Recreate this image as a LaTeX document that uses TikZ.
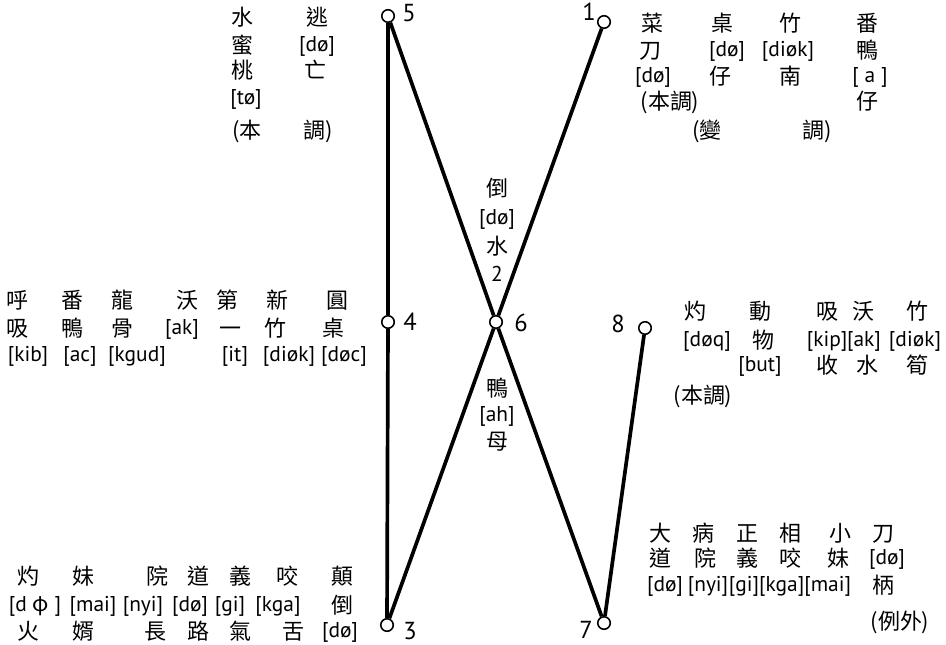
\documentclass[tikz,border=0pt]{standalone}
\usepackage{fontspec}
\setmainfont{PT Sans}
\newfontfamily\cjk{Noto Sans CJK TC}
\begin{document}
\begin{tikzpicture}[x=0.02cm, y=-0.02cm,
    pt/.style={circle, draw, line width=0.9pt, fill=white, inner sep=0pt, minimum size=0.25cm},
    link/.style={line width=2.1pt},
    num/.style={font=\fontsize{14}{16}\selectfont, inner sep=0pt},
    zi/.style={font=\cjk\fontsize{12.5}{14}\selectfont, inner sep=0pt, text height=0.85em, text depth=0.15em},
    yin/.style={font=\fontsize{12.2}{14}\selectfont, inner sep=0pt, text height=0.78em, text depth=0.22em}]

    \useasboundingbox (0,0) rectangle (946,645);

    % 1. 調點 (圓圈) 與編號
    \node[pt] (p5) at (388,16) {};
    \node[pt] (p1) at (604,22) {};
    \node[pt] (p4) at (388,322) {};
    \node[pt] (p6) at (496,322) {};
    \node[pt] (p8) at (645,328) {};
    \node[pt] (p3) at (387,625) {};
    \node[pt] (p7) at (604,623) {};
    \node[num] (n5) at (409,13) {5};
    \node[num] (n1) at (589,12) {1};
    \node[num] (n4) at (410,322) {4};
    \node[num] (n6) at (521,323) {6};
    \node[num] (n8) at (618,324) {8};
    \node[num] (n3) at (410,631) {3};
    \node[num] (n7) at (586,630) {7};

    % 2. 連線
    \draw[link] (p5) -- (p4);
    \draw[link] (p4) -- (p3);
    \draw[link] (p5) -- (p6);
    \draw[link] (p6) -- (p7);
    \draw[link] (p1) -- (p6);
    \draw[link] (p6) -- (p3);
    \draw[link] (p8) -- (p7);

    % 3. 第五調 (左上)
    \foreach \x/\y/\t [count=\i] in {242/19/水, 317/19/逃, 242/47/蜜, 242/72/桃, 315/72/亡,
        247/132/(本, 318/132/調)}
      \node[zi] (t5z\i) at (\x,\y) {\t};
    \foreach \x/\y/\t [count=\i] in {317/47/{[dø]}, 246/100/{[tø]}}
      \node[yin] (t5y\i) at (\x,\y) {\t};

    % 4. 第一調 (右上)
    \foreach \x/\y/\t [count=\i] in {652/25/菜, 722/25/桌, 790/25/竹, 867/25/番,
        650/52/刀, 867/52/鴨, 720/78/仔, 790/78/南,
        670/103/(本調), 867/103/仔, 707/132/(變, 817/132/調)}
      \node[zi] (t1z\i) at (\x,\y) {\t};
    \foreach \x/\y/\t [count=\i] in {727/52/{[dø]}, 788/52/{[diøk]}, 653/78/{[dø]}, 870/78/{[ a ]}}
      \node[yin] (t1y\i) at (\x,\y) {\t};

    % 5. 中間 (第二調、第六調)
    \foreach \y/\t [count=\i] in {190/倒, 248/水, 390/鴨, 443/母}
      \node[zi] (t6z\i) at (497,\y) {\t};
    \foreach \y/\t [count=\i] in {220/{[dø]}, 277/2, 417/{[ah]}}
      \node[yin] (t6y\i) at (497,\y) {\t};

    % 6. 第四調 (左中)
    \foreach \x/\y/\t [count=\i] in {17/302/呼, 72/302/番, 122/302/龍, 187/302/沃, 227/302/第, 277/302/新, 337/302/圓,
        17/330/吸, 72/330/鴨, 122/330/骨, 230/330/一, 275/330/竹, 333/330/桌}
      \node[zi] (t4z\i) at (\x,\y) {\t};
    \foreach \x/\y/\t [count=\i] in {182/330/{[ak]}, 28/357/{[kib]}, 80/357/{[ac]}, 137/357/{[kgud]},
        235/357/{[it]}, 289/357/{[diøk]}, 344/357/{[døc]}}
      \node[yin] (t4y\i) at (\x,\y) {\t};

    % 7. 第八調 (右中)
    \foreach \x/\y/\t [count=\i] in {695/313/灼, 760/313/動, 827/313/吸, 863/313/沃, 917/313/竹,
        763/342/物, 827/367/收, 867/367/水, 917/367/筍, 703/397/(本調)}
      \node[zi] (t8z\i) at (\x,\y) {\t};
    \foreach \x/\y/\t [count=\i] in {707/342/{[døq]}, 827/342/{[kip]}, 864/342/{[ak]}, 915/342/{[diøk]},
        760/367/{[but]}}
      \node[yin] (t8y\i) at (\x,\y) {\t};

    % 8. 第三調 (左下)
    \foreach \x/\y/\t [count=\i] in {28/578/灼, 83/578/妹, 157/578/院, 198/578/道, 240/578/義, 287/578/咬, 342/578/顛,
        342/607/倒, 28/633/火, 83/633/婿, 155/633/長, 198/633/路, 240/633/氣, 293/633/舌}
      \node[zi] (t3z\i) at (\x,\y) {\t};
    \foreach \x/\y/\t [count=\i] in {35/607/{[d {\cjk φ} ]}, 93/607/{[mai]}, 143/607/{[nyi]}, 190/607/{[dø]},
        230/607/{[gi]}, 278/607/{[kga]}, 340/633/{[dø]}}
      \node[yin] (t3y\i) at (\x,\y) {\t};

    % 9. 第七調 (右下)
    \foreach \x/\y/\t [count=\i] in {660/535/大, 703/535/病, 747/535/正, 790/535/相, 840/535/小, 883/535/刀,
        660/560/道, 705/560/院, 747/560/義, 790/560/咬, 838/560/妹, 883/587/柄, 900/623/(例外)}
      \node[zi] (t7z\i) at (\x,\y) {\t};
    \foreach \x/\y/\t [count=\i] in {887/560/{[dø]}, 665/587/{[dø]}, 708/587/{[nyi]}, 790/587/{[gi][kga][mai]}}
      \node[yin] (t7y\i) at (\x,\y) {\t};

\end{tikzpicture}
\end{document}
